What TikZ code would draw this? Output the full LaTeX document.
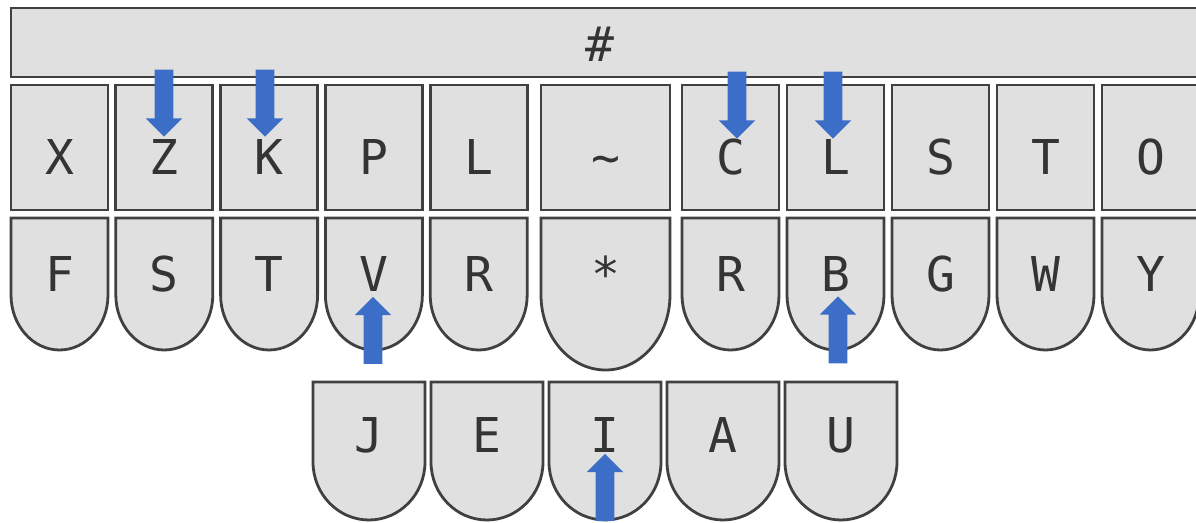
\documentclass[tikz,border=0pt]{standalone}
\usepackage{fontspec}
\newfontfamily\keyfont{DejaVu Sans Mono}
\usetikzlibrary{positioning, shapes.arrows}

\definecolor{keygray}{RGB}{224,224,224}
\definecolor{keyedge}{RGB}{64,64,64}
\definecolor{labelgray}{RGB}{52,52,52}
\definecolor{arrowblue}{RGB}{60,110,200}

\begin{document}
\begin{tikzpicture}[
    x=0.5pt, y=-0.5pt,
    key/.style={fill=keygray, draw=keyedge, line width=1.4pt},
    keylabel/.style={font=\keyfont\fontsize{24}{28}\selectfont, text=labelgray,
                     anchor=base, inner sep=0pt},
    push/.style={single arrow, fill=arrowblue, draw=none, inner sep=4.5pt,
                 single arrow head extend=4.5pt, minimum height=33.5pt},
    push down/.style={push, rotate=-90},
    push up/.style={push, rotate=90},
]

\def\pitch{104.8}  % key pitch, left bank
\def\rpitch{105}   % key pitch, right bank

\clip (0,0) rectangle (1196,523);

% =====================================================================
%  NUMBER BAR
% =====================================================================
\draw[key] (11,8) rectangle (1215,77);
\node[keylabel] (num) at (600,62) {\#};

% =====================================================================
%  LEFT BANK
% =====================================================================
% --- upper row ---
\foreach \l [count=\i from 0] in {X,Z,K,P,L} {
    \draw[key] ({11+\i*\pitch},85) rectangle +(97,125);
    \node[keylabel] (lu\i) at ({11+\i*\pitch+48.5},175) {\l};
}
% --- lower row ---
\foreach \l [count=\i from 0] in {F,S,T,V,R} {
    \draw[key] ({11+\i*\pitch},218) -- ({11+\i*\pitch},295)
        arc[start angle=180, end angle=0, x radius=48.5, y radius=55]
        -- ({108+\i*\pitch},218) -- cycle;
    \node[keylabel] (ll\i) at ({11+\i*\pitch+48.5},292) {\l};
}

% =====================================================================
%  CENTRE KEYS
% =====================================================================
\draw[key] (541,85) rectangle (670,210);
\node[keylabel] (tilde) at (605.5,175) {\textasciitilde};
\draw[key] (541,218) -- (541,295)
    arc[start angle=180, end angle=0, x radius=64.5, y radius=75]
    -- (670,218) -- cycle;
\node[keylabel] (star) at (605.5,292) {*};

% =====================================================================
%  RIGHT BANK
% =====================================================================
% --- upper row ---
\foreach \l [count=\i from 0] in {C,L,S,T,O} {
    \draw[key] ({682+\i*\rpitch},85) rectangle +(97,125);
    \node[keylabel] (ru\i) at ({682+\i*\rpitch+48.5},175) {\l};
}
% --- lower row ---
\foreach \l [count=\i from 0] in {R,B,G,W,Y} {
    \draw[key] ({682+\i*\rpitch},218) -- ({682+\i*\rpitch},295)
        arc[start angle=180, end angle=0, x radius=48.5, y radius=55]
        -- ({779+\i*\rpitch},218) -- cycle;
    \node[keylabel] (rl\i) at ({682+\i*\rpitch+48.5},292) {\l};
}

% =====================================================================
%  VOWEL ROW
% =====================================================================
\foreach \l [count=\i from 0] in {J,E,I,A,U} {
    \draw[key] ({313+\i*118},382) -- ({313+\i*118},462)
        arc[start angle=180, end angle=0, x radius=56, y radius=58]
        -- ({425+\i*118},382) -- cycle;
    \node[keylabel] (v\i) at ({313+\i*118+56},453) {\l};
}

% --- push arrows ---
\node[push down] (pZ) at (164,98.5) {};
\node[push down] (pK) at (265,98.5) {};
\node[push down] (pC) at (737,100.5) {};
\node[push down] (pL) at (833,100.5) {};
\node[push up] (pV) at (373,335) {};
\node[push up] (pB) at (838,334.5) {};
\node[push up] (pI) at (605,492) {};

\end{tikzpicture}
\end{document}
